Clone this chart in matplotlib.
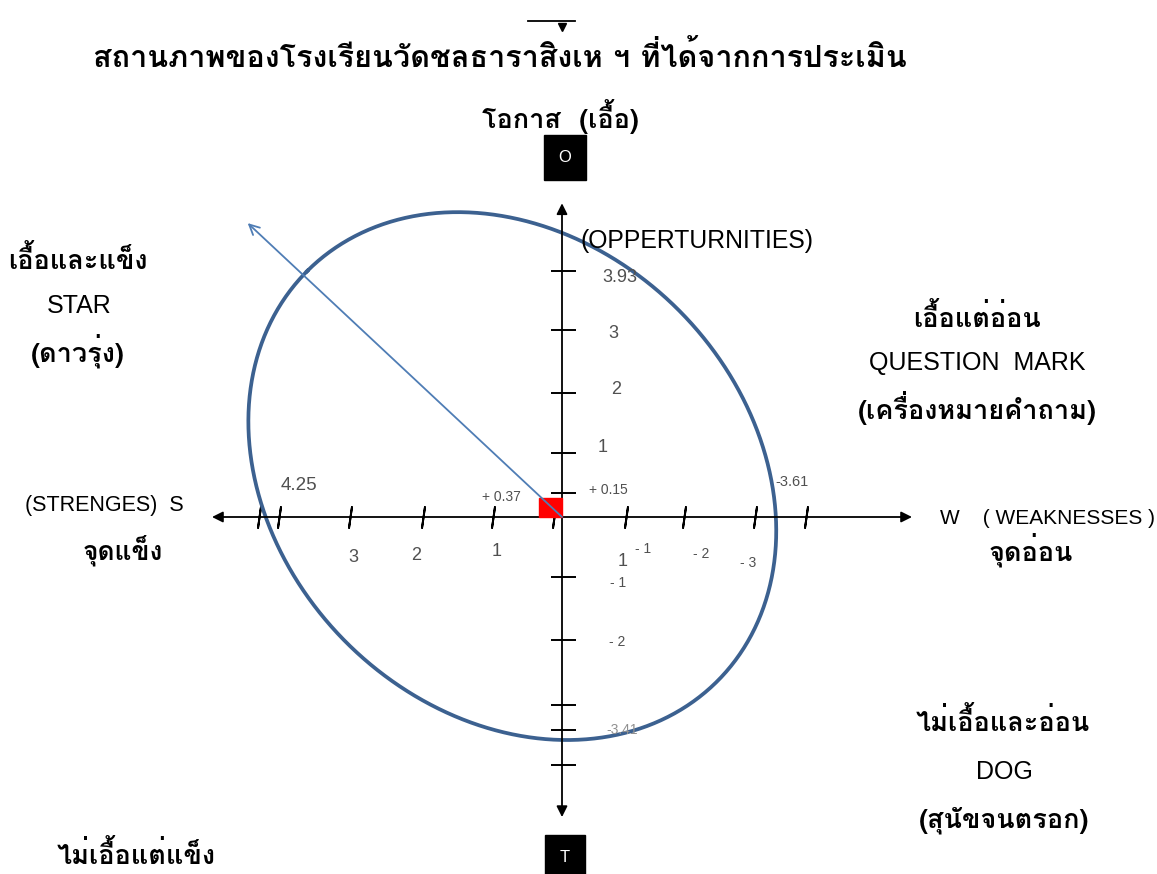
import numpy as np
import matplotlib
matplotlib.use('Agg')
from matplotlib import pyplot as plt
from matplotlib import font_manager
from matplotlib.ft2font import FT2Font
from matplotlib.patches import Rectangle

# scores
s_score = 4.25      # strengths
w_score = -3.61     # weaknesses
o_score = 3.93      # opportunities
t_score = -3.41     # threats
s_net = 0.37
o_net = 0.15
vector_end = [4.49, 4.74]   # tip of the strategy arrow (S, O)

# hand-drawn tick positions on the axes (units)
s_ticks = [4.33, 4.04, 3.03, 1.99, 0.99, 0.11]
w_ticks = [-0.91, -1.74, -2.76, -3.49]
o_ticks = [3.97, 3.02, 2.0, 1.03, 0.39]
t_ticks = [-0.97, -1.98, -3.03, -3.44, -4.0]

# ellipse shape (pixel-ish semi axes, tilt 45 deg) and centre in units
ell_center = [0.71, 0.66]
ell_axes = [290, 235]


def thai_family():
    for f in font_manager.fontManager.ttflist:
        try:
            if 0x0E01 in FT2Font(f.fname).get_charmap():
                return f.name
        except Exception:
            pass
    return 'DejaVu Sans'


thai = thai_family()
plt.rcParams['font.family'] = ['Liberation Sans', thai, 'DejaVu Sans']
TH = [thai, 'Liberation Sans', 'DejaVu Sans']

W, H = 1157, 874
UX, UY = 70.0, 62.0
OX, OY = 562, 517

fig = plt.figure(figsize=(W / 100, H / 100), dpi=100)
ax = fig.add_axes([0, 0, 1, 1])
ax.set_xlim(OX / UX, (OX - W) / UX)
ax.set_ylim((OY - H) / UY, OY / UY)
ax.axis('off')


def P(px, py):
    return (OX - px) / UX, (OY - py) / UY


# leftover bar at the very top of the scan
ax.plot([P(528, 21)[0], P(575, 21)[0]], [P(528, 21)[1]] * 2, color='black', lw=1.3)
ax.plot(*P(562, 27), marker='v', ms=6, color='black')

# axes with arrows
ax.annotate('', xy=(-5.0, 0), xytext=(5.0, 0),
            arrowprops=dict(arrowstyle='<|-|>', color='black', lw=1.3,
                            mutation_scale=16, shrinkA=0, shrinkB=0))
ax.annotate('', xy=(0, -4.84), xytext=(0, 5.06),
            arrowprops=dict(arrowstyle='<|-|>', color='black', lw=1.3,
                            mutation_scale=16, shrinkA=0, shrinkB=0))

# tick marks
xt = s_ticks + w_ticks
ax.plot(xt, [0] * len(xt), ls='none', marker=(2, 2, -8), ms=16,
        mec='black', mew=1.4)
yt = o_ticks + t_ticks
ax.plot([-0.02] * len(yt), yt, ls='none', marker='_', ms=18,
        mec='black', mew=1.4)

# ellipse
t = np.linspace(0, 2 * np.pi, 400)
c = np.sqrt(0.5)
ox = ell_axes[0] * np.cos(t) * c - ell_axes[1] * np.sin(t) * c
oy = ell_axes[0] * np.cos(t) * c + ell_axes[1] * np.sin(t) * c
ax.plot(ell_center[0] + ox / UX, ell_center[1] + oy / UY,
        color='#3c6190', lw=2.7)

# net position marker
ax.add_patch(Rectangle((0, 0), 0.33, 0.31, color='#ff0000', zorder=3))

# strategy arrow
ax.annotate('', xy=vector_end, xytext=(0, 0),
            arrowprops=dict(arrowstyle='->', color='#4f7db5', lw=1.3,
                            mutation_scale=18, shrinkA=0, shrinkB=0),
            zorder=4)

# number labels
grey = '#505050'
ax.text(*P(620, 278), f'{o_score:.2f}', fontsize=13, color=grey, ha='center', va='center')
ax.text(*P(613, 333), '3', fontsize=13, color=grey, ha='center', va='center')
ax.text(*P(616, 390), '2', fontsize=13, color=grey, ha='center', va='center')
ax.text(*P(603, 447), '1', fontsize=13, color=grey, ha='center', va='center')
ax.text(*P(608, 490), f'+ {o_net:.2f}', fontsize=10, color=grey, ha='center', va='center')
ax.text(*P(792, 482), f'{w_score:.2f}', fontsize=10.5, color=grey, ha='center', va='center')
ax.text(*P(299, 486), f'{s_score:.2f}', fontsize=13.5, color=grey, ha='center', va='center')
ax.text(*P(501, 497), f'+ {s_net:.2f}', fontsize=10, color=grey, ha='center', va='center')
ax.text(*P(353, 557), '3', fontsize=13, color=grey, ha='center', va='center')
ax.text(*P(416, 555), '2', fontsize=13, color=grey, ha='center', va='center')
ax.text(*P(497, 552), '1', fontsize=13, color=grey, ha='center', va='center')
ax.text(*P(623, 561), '1', fontsize=13, color=grey, ha='center', va='center')
ax.text(*P(643, 549), '- 1', fontsize=10, color=grey, ha='center', va='center')
ax.text(*P(701, 554), '- 2', fontsize=10, color=grey, ha='center', va='center')
ax.text(*P(748, 563), '- 3', fontsize=10, color=grey, ha='center', va='center')
ax.text(*P(618, 583), '- 1', fontsize=10, color=grey, ha='center', va='center')
ax.text(*P(617, 642), '- 2', fontsize=10, color=grey, ha='center', va='center')
ax.text(*P(622, 730), f'{t_score:.2f}', fontsize=10, color='#909090', ha='center', va='center')

# axis names
ax.text(*P(697, 241), '(OPPERTURNITIES)', fontsize=17.8, ha='center', va='center')
ax.text(*P(104, 505), '(STRENGES)  S', fontsize=15.5, ha='center', va='center')
ax.text(*P(1047, 518), 'W    ( WEAKNESSES )', fontsize=15, ha='center', va='center')
ax.text(*P(123, 550), 'จุดแข็ง', family=TH, fontsize=19, weight='bold', ha='center', va='center')
ax.text(*P(1031, 550), 'จุดอ่อน', family=TH, fontsize=19.5, weight='bold', ha='center', va='center')

# title and O / T boxes
ax.text(*P(500, 57), 'สถานภาพของโรงเรียนวัดชลธาราสิงเห ฯ ที่ได้จากการประเมิน',
        family=TH, fontsize=22, weight='bold', ha='center', va='center')
ax.text(*P(560, 117), 'โอกาส  (เอื้อ)', family=TH, fontsize=19.5, weight='bold',
        ha='center', va='center')
ax.text(*P(565, 157), 'O', fontsize=12, color='white', ha='center', va='center',
        bbox=dict(boxstyle='square,pad=0.9', fc='black', ec='black'))
ax.text(*P(565, 857), 'T', fontsize=12, color='white', ha='center', va='center',
        bbox=dict(boxstyle='square,pad=0.9', fc='black', ec='black'))

# quadrant names
ax.text(*P(78, 260), 'เอื้อและแข็ง', family=TH, fontsize=19.5, weight='bold', ha='center', va='center')
ax.text(*P(79, 306), 'STAR', fontsize=18, ha='center', va='center')
ax.text(*P(78, 351), '(ดาวรุ่ง)', family=TH, fontsize=19.5, weight='bold', ha='center', va='center')

ax.text(*P(977, 318), 'เอื้อแต่อ่อน', family=TH, fontsize=19.5, weight='bold', ha='center', va='center')
ax.text(*P(977, 363), 'QUESTION  MARK', fontsize=18, ha='center', va='center')
ax.text(*P(977, 408), '(เครื่องหมายคำถาม)', family=TH, fontsize=19.5, weight='bold', ha='center', va='center')

ax.text(*P(1003, 722), 'ไม่เอื้อและอ่อน', family=TH, fontsize=19.5, weight='bold', ha='center', va='center')
ax.text(*P(1004, 772), 'DOG', fontsize=18, ha='center', va='center')
ax.text(*P(1004, 820), '(สุนัขจนตรอก)', family=TH, fontsize=19.5, weight='bold', ha='center', va='center')

ax.text(*P(136, 855), 'ไม่เอื้อแต่แข็ง', family=TH, fontsize=19.5, weight='bold', ha='center', va='center')

fig.savefig('out.png', dpi=100)
